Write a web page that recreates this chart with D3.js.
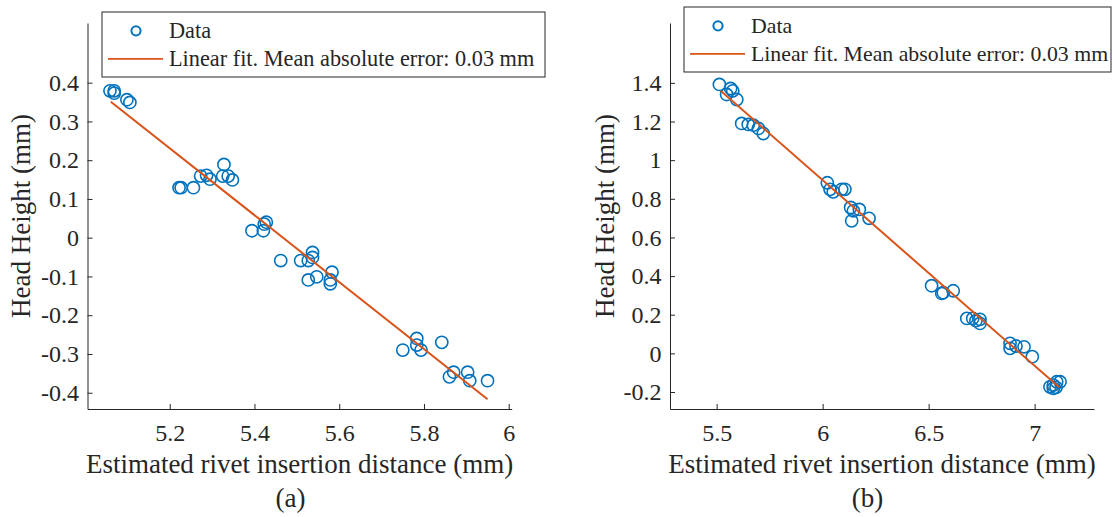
<!DOCTYPE html>
<html>
<head>
<meta charset="utf-8">
<script src="https://cdn.jsdelivr.net/npm/d3@7"></script>
<style>
  body { margin: 0; background: #fff; }
  svg { display: block; }
  svg text { font-family: 'Liberation Serif', 'Tinos', 'Times New Roman', 'DejaVu Serif', 'Noto Serif', serif; fill: #262626; }
</style>
</head>
<body>
<div class="chart"></div>
<script>

// (a) measured points
var xA = [5.059, 5.069, 5.069, 5.099, 5.106, 5.222, 5.227, 5.256, 5.273, 5.287,
  5.295, 5.328, 5.325, 5.338, 5.348, 5.428, 5.423, 5.394, 5.421, 5.462,
  5.509, 5.537, 5.537, 5.527, 5.583, 5.547, 5.527, 5.579, 5.579, 5.750,
  5.783, 5.783, 5.793, 5.842, 5.860, 5.870, 5.903, 5.908, 5.950];
var yA = [0.379, 0.379, 0.373, 0.356, 0.349, 0.129, 0.129, 0.129, 0.159, 0.161,
  0.151, 0.189, 0.159, 0.159, 0.149, 0.040, 0.035, 0.018, 0.018, -0.059,
  -0.059, -0.038, -0.051, -0.059, -0.089, -0.101, -0.109, -0.109, -0.119, -0.290,
  -0.260, -0.277, -0.290, -0.270, -0.359, -0.347, -0.347, -0.369, -0.369];
var fitXA = [5.061, 5.950]; // fit line end points
var fitYA = [0.351, -0.417];
var xTicksA = [5.2, 5.4, 5.6, 5.8, 6];
var yTicksA = [-0.4, -0.3, -0.2, -0.1, 0, 0.1, 0.2, 0.3, 0.4];

// (b) measured points
var xB = [5.513, 5.547, 5.566, 5.576, 5.595, 5.618, 5.649, 5.673, 5.697, 5.720,
  6.022, 6.035, 6.050, 6.090, 6.105, 6.132, 6.145, 6.173, 6.137, 6.219,
  6.514, 6.562, 6.569, 6.616, 6.680, 6.708, 6.723, 6.742, 6.742, 6.884,
  6.884, 6.912, 6.950, 6.989, 7.072, 7.088, 7.104, 7.120, 7.088, 7.101];
var yB = [1.392, 1.340, 1.371, 1.359, 1.314, 1.190, 1.185, 1.181, 1.164, 1.138,
  0.883, 0.849, 0.836, 0.849, 0.849, 0.755, 0.738, 0.745, 0.686, 0.699,
  0.350, 0.310, 0.314, 0.324, 0.181, 0.181, 0.169, 0.176, 0.155, 0.052,
  0.026, 0.038, 0.034, -0.017, -0.173, -0.164, -0.147, -0.147, -0.181, -0.176];
var fitXB = [5.519, 7.116];
var fitYB = [1.359, -0.176];
var xTicksB = [5.5, 6, 6.5, 7];
var yTicksB = [-0.2, 0, 0.2, 0.4, 0.6, 0.8, 1, 1.2, 1.4];

var legendLabels = ['Data', 'Linear fit. Mean absolute error: 0.03 mm'];
var xLabel = 'Estimated rivet insertion distance (mm)';
var yLabel = 'Head Height (mm)';

var width = 1112,
  height = 517,
  axTop = 23,
  axBottom = 409;

var blue = '#0072BD',
  orange = '#D95319',
  axisColor = '#262626',
  serif = "'Liberation Serif', 'Tinos', 'Times New Roman', 'DejaVu Serif', 'Noto Serif', serif";

var svg = d3.select('.chart')
  .append('svg')
  .attr('width', width)
  .attr('height', height)
  .attr('font-family', serif);

function fmt(d) { return String(d); } // keeps plain hyphen minus like matlab

function drawPanel(p) {
  var xScale = d3.scaleLinear().domain(p.xDomain).range([p.left, p.right]);
  var yScale = d3.scaleLinear().domain(p.yDomain).range([axBottom, axTop]);

  var xAxis = d3.axisBottom(xScale)
    .tickValues(p.xTicks)
    .tickFormat(fmt)
    .tickSizeInner(-5)
    .tickSizeOuter(0)
    .tickPadding(15);

  var yAxis = d3.axisLeft(yScale)
    .tickValues(p.yTicks)
    .tickFormat(fmt)
    .tickSizeInner(-5)
    .tickSizeOuter(0)
    .tickPadding(8.5);

  var g = svg.append('g');

  g.append('g')
    .attr('transform', 'translate(0,' + axBottom + ')')
    .call(xAxis)
    .attr('color', axisColor)
    .attr('font-family', serif)
    .attr('font-size', 24);

  g.append('g')
    .attr('transform', 'translate(' + p.left + ',0)')
    .call(yAxis)
    .attr('color', axisColor)
    .attr('font-family', serif)
    .attr('font-size', 24);

  //POINTS
  g.selectAll('.pt')
    .data(p.xs)
    .enter()
    .append('circle')
    .attr('class', 'pt')
    .attr('cx', function(d) { return xScale(d); })
    .attr('cy', function(d, i) { return yScale(p.ys[i]); })
    .attr('r', 6.1)
    .attr('fill', 'none')
    .attr('stroke', blue)
    .attr('stroke-width', 1.6);

  //FIT
  var line = d3.line()
    .x(function(d) { return xScale(d); })
    .y(function(d, i) { return yScale(p.fitY[i]); });

  g.append('path')
    .attr('d', line(p.fitX))
    .attr('fill', 'none')
    .attr('stroke', orange)
    .attr('stroke-width', 2);

  //LABELS
  g.append('text')
    .attr('x', (p.left + p.right) / 2)
    .attr('y', 473)
    .attr('text-anchor', 'middle')
    .attr('font-size', 27)
    .text(xLabel);

  g.append('text')
    .attr('transform', 'translate(' + p.yLabelX + ',' + ((axTop + axBottom) / 2) + ') rotate(-90)')
    .attr('text-anchor', 'middle')
    .attr('font-size', 27)
    .text(yLabel);

  g.append('text')
    .attr('x', p.capX)
    .attr('y', 507)
    .attr('text-anchor', 'middle')
    .attr('font-size', 27)
    .text(p.caption);

  //LEGEND
  var lg = g.append('g');
  lg.append('rect')
    .attr('x', p.leg[0]).attr('y', p.leg[1])
    .attr('width', p.leg[2]).attr('height', p.leg[3])
    .attr('fill', '#fff')
    .attr('stroke', axisColor)
    .attr('stroke-width', 1);

  var row1 = p.leg[1] + p.leg[3] * 0.29,
    row2 = p.leg[1] + p.leg[3] * 0.72,
    lx = p.leg[0] + 6;

  lg.append('circle')
    .attr('cx', lx + 28).attr('cy', row1)
    .attr('r', 4.6)
    .attr('fill', 'none')
    .attr('stroke', blue)
    .attr('stroke-width', 2);

  lg.append('line')
    .attr('x1', lx).attr('x2', lx + 55)
    .attr('y1', row2).attr('y2', row2)
    .attr('stroke', orange)
    .attr('stroke-width', 1.8);

  lg.selectAll('.lt')
    .data(legendLabels)
    .enter()
    .append('text')
    .attr('class', 'lt')
    .attr('x', lx + 61)
    .attr('y', function(d, i) { return (i ? row2 : row1) + 7.5; })
    .attr('font-size', p.legFont)
    .text(function(d) { return d; });
}

drawPanel({
  xs: xA, ys: yA, fitX: fitXA, fitY: fitYA,
  xTicks: xTicksA, yTicks: yTicksA,
  xDomain: [5.006, 6.007], yDomain: [-0.442, 0.554],
  left: 87.5, right: 511.7,
  yLabelX: 30, capX: 290.5, caption: '(a)',
  leg: [102, 12, 443, 65], legFont: 22.3
});

drawPanel({
  xs: xB, ys: yB, fitX: fitXB, fitY: fitYB,
  xTicks: xTicksB, yTicks: yTicksB,
  xDomain: [5.28, 7.28], yDomain: [-0.288, 1.71],
  left: 670, right: 1094,
  yLabelX: 614, capX: 867.5, caption: '(b)',
  leg: [684, 7, 427, 65], legFont: 21.8
});

</script>
</body>
</html>
